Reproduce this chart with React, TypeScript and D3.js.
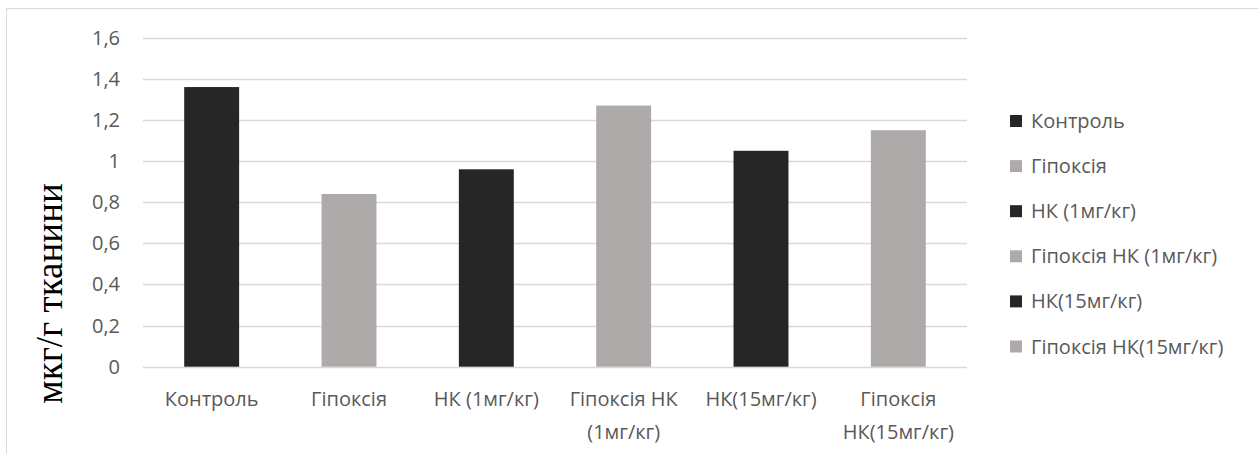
import React from "react";
import * as d3 from "d3";

const categories: string[][] = [
  ["Контроль"],
  ["Гіпоксія"],
  ["НК (1мг/кг)"],
  ["Гіпоксія НК", "(1мг/кг)"],
  ["НК(15мг/кг)"],
  ["Гіпоксія", "НК(15мг/кг)"],
];
const legendLabels: string[] = [
  "Контроль",
  "Гіпоксія",
  "НК (1мг/кг)",
  "Гіпоксія НК (1мг/кг)",
  "НК(15мг/кг)",
  "Гіпоксія НК(15мг/кг)",
];
const values: number[] = [1.36, 0.84, 0.96, 1.27, 1.05, 1.15];
const yTicks: number[] = [0, 0.2, 0.4, 0.6, 0.8, 1, 1.2, 1.4, 1.6];
const yTitle = "мкг/г тканини";

const DARK = "#262626";
const LIGHT = "#aeaaaa";
const colors = [DARK, LIGHT, DARK, LIGHT, DARK, LIGHT];

const W = 1258;
const H = 454;
const FONT = "'Open Sans', 'Noto Sans', sans-serif";
const FS = 20;
const TEXT = "#595959";

const PLOT_LEFT = 143;
const PLOT_RIGHT = 967;

export default function App() {
  const keys = categories.map((c) => c.join(" "));
  const x = d3
    .scaleBand<string>()
    .domain(keys)
    .range([PLOT_LEFT, PLOT_RIGHT])
    .paddingInner(0.6)
    .paddingOuter(0.3);
  const y = d3.scaleLinear().domain([0, 1.6]).range([366.7, 37.7]);
  const fmt = (v: number) => String(v).replace(".", ",");
  const cx = (i: number) => (x(keys[i]) as number) + x.bandwidth() / 2;

  return (
    <svg width={W} height={H} style={{ position: "absolute", left: 0, top: 0 }}>
      <rect x={0} y={0} width={W} height={H} fill="#fff" />
      {/* chart frame, open beyond the right and bottom edges */}
      <rect x={6.5} y={8.5} width={W + 20} height={H + 20} fill="none" stroke="#d9d9d9" strokeWidth={1} />
      {yTicks.map((t) => (
        <g key={t}>
          <line
            x1={PLOT_LEFT}
            x2={PLOT_RIGHT}
            y1={Math.round(y(t)) + 0.5}
            y2={Math.round(y(t)) + 0.5}
            stroke="#d9d9d9"
            strokeWidth={1.3}
          />
          <text x={120} y={y(t)} dy="0.35em" textAnchor="end" fontFamily={FONT} fontSize={FS} fill={TEXT}>
            {fmt(t)}
          </text>
        </g>
      ))}
      {values.map((v, i) => (
        <rect key={i} x={x(keys[i])} y={y(v)} width={x.bandwidth()} height={y(0) - y(v)} fill={colors[i]} />
      ))}
      {categories.map((lines, i) => (
        <text key={i} x={cx(i)} y={399} textAnchor="middle" fontFamily={FONT} fontSize={FS} fill={TEXT}>
          {lines.map((l, j) => (
            <tspan key={j} x={cx(i)} dy={j === 0 ? "0.35em" : 33}>
              {l}
            </tspan>
          ))}
        </text>
      ))}
      <text
        transform={`translate(49,293.5) rotate(-90)`}
        textAnchor="middle"
        dy="0.35em"
        fontFamily="'Liberation Serif', 'Times New Roman', serif"
        fontSize={37}
        fill="#000"
      >
        {yTitle}
      </text>
      {legendLabels.map((l, i) => (
        <g key={i} transform={`translate(1010,${121 + i * 45.1})`}>
          <rect x={0} y={-6} width={12} height={12} fill={colors[i]} />
          <text x={21} y={0} dy="0.35em" fontFamily={FONT} fontSize={FS} fill={TEXT}>
            {l}
          </text>
        </g>
      ))}
    </svg>
  );
}
